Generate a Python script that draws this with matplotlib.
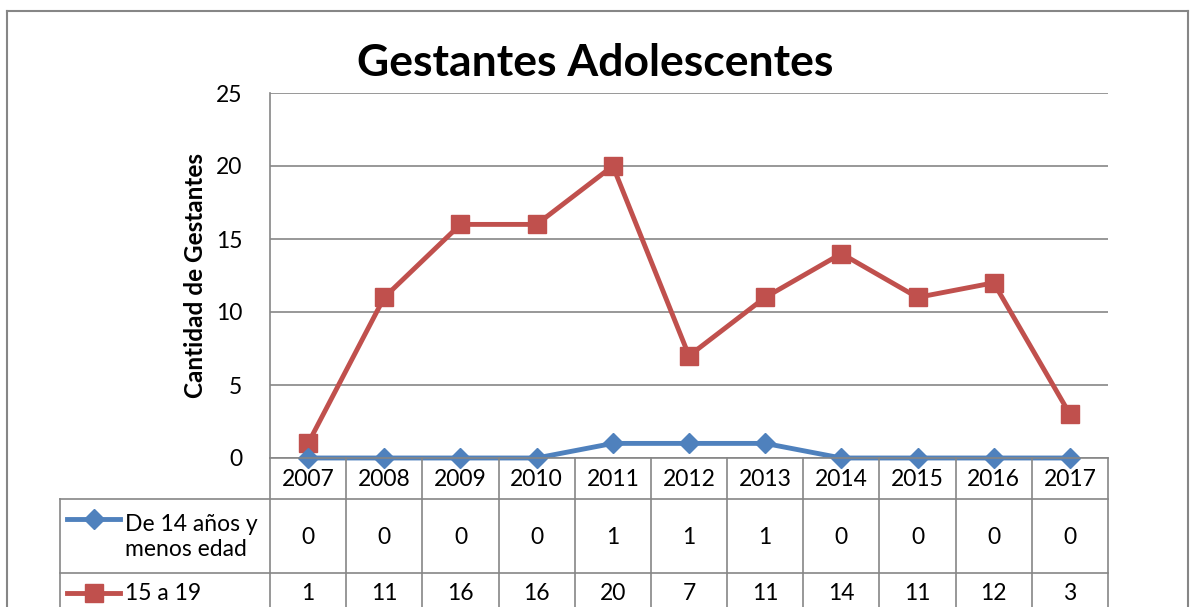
import numpy as np
import matplotlib.pyplot as plt
from matplotlib.lines import Line2D
import matplotlib.transforms as mtransforms

plt.rcParams["font.family"] = ["Lato", "DejaVu Sans"]

years = ["2007", "2008", "2009", "2010", "2011", "2012", "2013", "2014", "2015", "2016", "2017"]
menores_14 = [0, 0, 0, 0, 1, 1, 1, 0, 0, 0, 0]
de_15_a_19 = [1, 11, 16, 16, 20, 7, 11, 14, 11, 12, 3]
series_names = ["De 14 años y\nmenos edad", "15 a 19"]

blue = "#4F81BD"
red = "#C0504D"
grid_gray = "#868686"
fs = 16.5

W, H = 1191, 607
fig = plt.figure(figsize=(W / 100, H / 100), dpi=100)

# pixel layout helpers (top-left origin)
def fx(px):
    return px / W

def fy(py):
    return 1 - py / H

ax_left, ax_right, ax_top, ax_bottom = 270, 1108, 93, 458
ax = fig.add_axes([fx(ax_left), fy(ax_bottom), fx(ax_right) - fx(ax_left), fy(ax_top) - fy(ax_bottom)])

x = np.arange(len(years))
ax.plot(x, menores_14, color=blue, lw=3.5, marker="D", ms=10.5, zorder=5, clip_on=False)
ax.plot(x, de_15_a_19, color=red, lw=3.5, marker="s", ms=13, zorder=4, clip_on=False)

ax.set_xlim(-0.5, len(years) - 0.5)
ax.set_ylim(0, 25)
ax.set_yticks(range(0, 26, 5))
ax.set_xticks([])
ax.yaxis.grid(True, color=grid_gray, lw=1.2)
ax.set_axisbelow(True)
for s in ["top", "right", "bottom"]:
    ax.spines[s].set_visible(False)
ax.spines["left"].set_color(grid_gray)
ax.spines["left"].set_linewidth(1.2)
ax.tick_params(axis="y", length=0, pad=20, labelsize=fs)
ax.set_ylabel("Cantidad de Gestantes", fontsize=17.5, fontweight="bold", labelpad=6)

fig.text(0.5, fy(63), "Gestantes Adolescentes", ha="center", va="center", fontsize=32, fontweight="bold")

# data table below the axes
lc = dict(color=grid_gray, lw=1.2, transform=fig.transFigure, clip_on=False)
row_year, row1, row2, row_end = 458, 499, 573, 660
label_left = 60
col_edges = [ax_left + i * (ax_right - ax_left) / len(years) for i in range(len(years) + 1)]
# horizontals
fig.add_artist(Line2D([fx(ax_left), fx(ax_right)], [fy(row_year)] * 2, **lc))
for r in [row1, row2]:
    fig.add_artist(Line2D([fx(label_left), fx(ax_right)], [fy(r)] * 2, **lc))
# verticals
for ce in col_edges:
    fig.add_artist(Line2D([fx(ce)] * 2, [fy(row_year), fy(row_end)], **lc))
fig.add_artist(Line2D([fx(label_left)] * 2, [fy(row1), fy(row_end)], **lc))

trans = mtransforms.blended_transform_factory(ax.transData, fig.transFigure)
for i, yr in enumerate(years):
    ax.text(i, fy((row_year + row1) / 2 + 1), yr, transform=trans, ha="center", va="center", fontsize=fs)
    ax.text(i, fy((row1 + row2) / 2 + 1), str(menores_14[i]), transform=trans, ha="center", va="center", fontsize=fs)
    ax.text(i, fy(row2 + 21), str(de_15_a_19[i]), transform=trans, ha="center", va="center", fontsize=fs)

# legend keys inside the table
for r_mid, col, mk, msz in [(519, blue, "D", 10.5), (593, red, "s", 13)]:
    fig.add_artist(Line2D([fx(67), fx(120)], [fy(r_mid)] * 2, color=col, lw=3.5, transform=fig.transFigure))
    fig.add_artist(Line2D([fx(93.5)], [fy(r_mid)], color=col, marker=mk, ms=msz, transform=fig.transFigure))
fig.text(fx(125), fy((row1 + row2) / 2 + 1), series_names[0], ha="left", va="center", fontsize=fs, linespacing=1.2)
fig.text(fx(125), fy(593), series_names[1], ha="left", va="center", fontsize=fs)

# chart border
bc = dict(color=grid_gray, lw=1.5, transform=fig.transFigure)
fig.add_artist(Line2D([fx(7), fx(7)], [fy(11), 0], **bc))
fig.add_artist(Line2D([fx(7), fx(1188)], [fy(11), fy(11)], **bc))
fig.add_artist(Line2D([fx(1188), fx(1188)], [fy(11), 0], **bc))

fig.savefig("out.png", dpi=100)
